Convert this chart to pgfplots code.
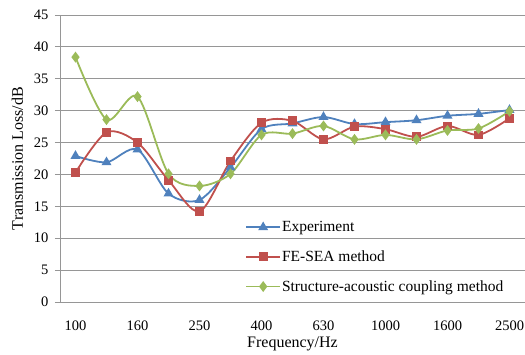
\documentclass[border=0pt]{standalone}
\usepackage{fontspec}
\setmainfont{Liberation Serif}
\usepackage{pgfplots}
\pgfplotsset{compat=1.18}
\definecolor{cBlue}{HTML}{4F81BD}
\definecolor{cRed}{HTML}{C0504D}
\definecolor{cGreen}{HTML}{9BBB59}
\definecolor{cGrid}{HTML}{969696}
\begin{document}
\begin{tikzpicture}
\useasboundingbox (-60pt,-52pt) rectangle (465pt,302pt);
\begin{axis}[
  at={(0pt,0pt)}, anchor=south west,
  scale only axis, width=465pt, height=287pt,
  xmin=-0.5, xmax=14.5, ymin=0, ymax=45,
  axis x line*=bottom, axis y line*=left,
  axis line style={cGrid, line width=0.8pt},
  xtick={0,2,...,14},
  xticklabels={100,160,250,400,630,1000,1600,2500},
  minor xtick={-0.5,0.5,...,14.5},
  ytick={0,5,...,45},
  ymajorgrids, grid style={cGrid, line width=0.8pt},
  tick align=outside,
  major tick length=5pt, minor tick length=5pt,
  xtick style={draw=none},
  minor x tick style={cGrid, line width=0.8pt},
  ytick style={cGrid, line width=0.8pt},
  /pgf/number format/assume math mode=true,
  tick label style={font=\fontsize{14.5}{16}\selectfont, text=black},
  xticklabel style={yshift=-10pt},
  yticklabel style={xshift=-3pt},
  xlabel={Frequency/Hz},
  ylabel={Transmission Loss/dB},
  label style={font=\fontsize{16}{18}\selectfont},
  xlabel style={yshift=0pt},
  ylabel style={yshift=4pt},
  legend style={at={(rel axis cs:0.398,0.285)}, anchor=north west, draw=none, fill=none,
    font=\fontsize{15.5}{17}\selectfont, row sep=15.5pt, inner sep=0pt,
    nodes={inner sep=1pt}},
  legend cell align=left,
  legend image code/.code={\draw[mark repeat=2,mark phase=2] plot coordinates {(0pt,0pt) (17pt,0pt) (34pt,0pt)};},
  every axis plot/.append style={line width=1.8pt, smooth, tension=0.5},
  clip=false,
]
\addplot[cBlue, mark=triangle*, mark size=4pt, mark options={solid}] coordinates {
(0,22.9) (1,21.9) (2,23.9) (3,17.0) (4,16.0) (5,21.1) (6,27.1) (7,28.0)
(8,29.0) (9,27.9) (10,28.2) (11,28.5) (12,29.2) (13,29.5) (14,30.1)};
\addlegendentry{Experiment}
\addplot[cRed, mark=square*, mark size=3.5pt] coordinates {
(0,20.3) (1,26.6) (2,25.0) (3,19.1) (4,14.2) (5,22.1) (6,28.1) (7,28.4)
(8,25.5) (9,27.5) (10,27.1) (11,25.9) (12,27.6) (13,26.2) (14,28.8)};
\addlegendentry{FE-SEA method}
\addplot[cGreen, mark=diamond*, mark size=4pt] coordinates {
(0,38.4) (1,28.6) (2,32.2) (3,20.1) (4,18.2) (5,20.1) (6,26.2) (7,26.4)
(8,27.6) (9,25.5) (10,26.2) (11,25.5) (12,26.9) (13,27.2) (14,29.9)};
\addlegendentry{Structure-acoustic coupling method}
\end{axis}
\end{tikzpicture}
\end{document}
